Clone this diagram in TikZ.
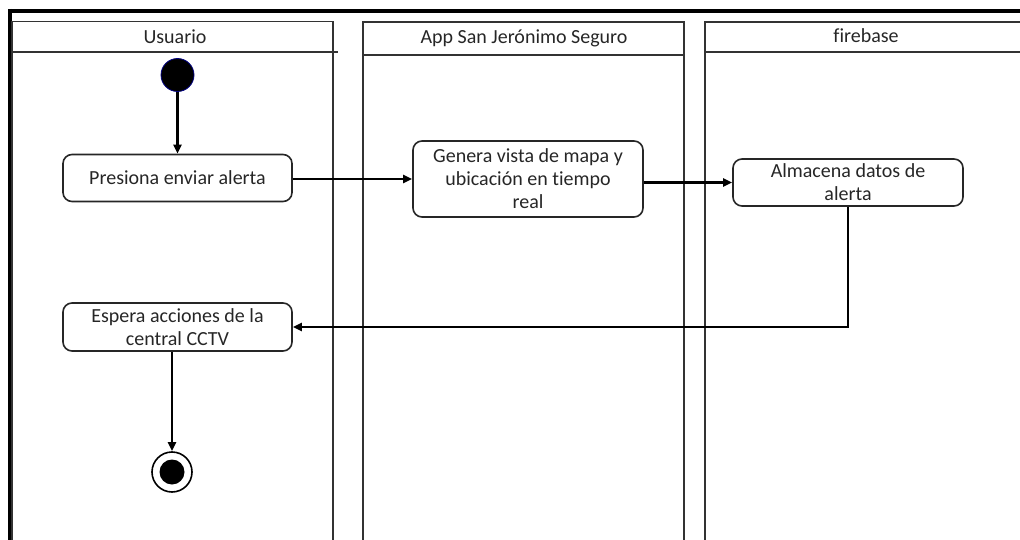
\documentclass[tikz,border=0pt]{standalone}
\usepackage{fontspec}
\setmainfont{Carlito}[Ligatures=NoCommon]
\usetikzlibrary{arrows.meta,calc}
\tikzset{
  lane/.style={draw=black!80, line width=1.6pt},
  act/.style={draw=black!85, line width=1.6pt, rounded corners=9pt, align=center,
    font=\fontsize{20}{23}\selectfont, text=black!85, inner sep=1pt},
  hdr/.style={font=\fontsize{20}{22}\selectfont, text=black!85},
  arr/.style={line width=2.2pt, -{Triangle[length=9pt,width=8pt]}},
}
\begin{document}
\begin{tikzpicture}[x=1pt,y=-1pt]
\useasboundingbox (0,0) rectangle (1020,540);
% frame
\draw[line width=4pt] (9.5,11) -- (1022,11);
\draw[line width=4pt] (9.5,9) -- (9.5,542);
% lanes
\draw[lane] (12,542) -- (12,21.5) -- (333,21.5) -- (333,542);
\draw[lane] (12,52) -- (338,52);
\draw[lane] (363,542) -- (363,22) -- (684,22) -- (684,542);
\draw[lane] (363,55) -- (684,55);
\draw[lane] (1025,22) -- (705,22) -- (705,542);
\draw[lane] (705,52) -- (1025,52);
\node[hdr] (h1) at (175,37) {Usuario};
\node[hdr] (h2) at (524,38) {App San Jerónimo Seguro};
\node[hdr] (h3) at (866,36) {firebase};
% nodes
\node[circle, fill=black, draw=blue!50!black, line width=0.8pt, minimum size=33pt, inner sep=0pt] (start) at (177.5,75) {};
\node[act, minimum width=229pt, minimum height=47pt] (presiona) at (177.5,178) {Presiona enviar alerta};
\node[act, minimum width=230pt, minimum height=76pt] (genera) at (528,179) {Genera vista de mapa y\\ubicación en tiempo\\real};
\node[act, minimum width=230pt, minimum height=47pt] (almacena) at (848,182.5) {Almacena datos de\\alerta};
\node[act, minimum width=229pt, minimum height=48pt] (espera) at (177.5,327) {Espera acciones de la\\central CCTV};
\node[circle, draw=black, line width=1.6pt, minimum size=40pt, inner sep=0pt] (endn) at (172,472) {};
\node[circle, fill=black, minimum size=25pt, inner sep=0pt] (endin) at (endn) {};
% connectors
\draw[arr] (start) -- (presiona);
\draw[arr] (presiona.east |- 0,179) -- (genera.west |- 0,179);
\draw[arr] (genera.east |- almacena) -- (almacena);
\draw[arr] (almacena.south) |- (espera.east);
\draw[arr] (espera.south -| endn) -- (endn);
\end{tikzpicture}
\end{document}
